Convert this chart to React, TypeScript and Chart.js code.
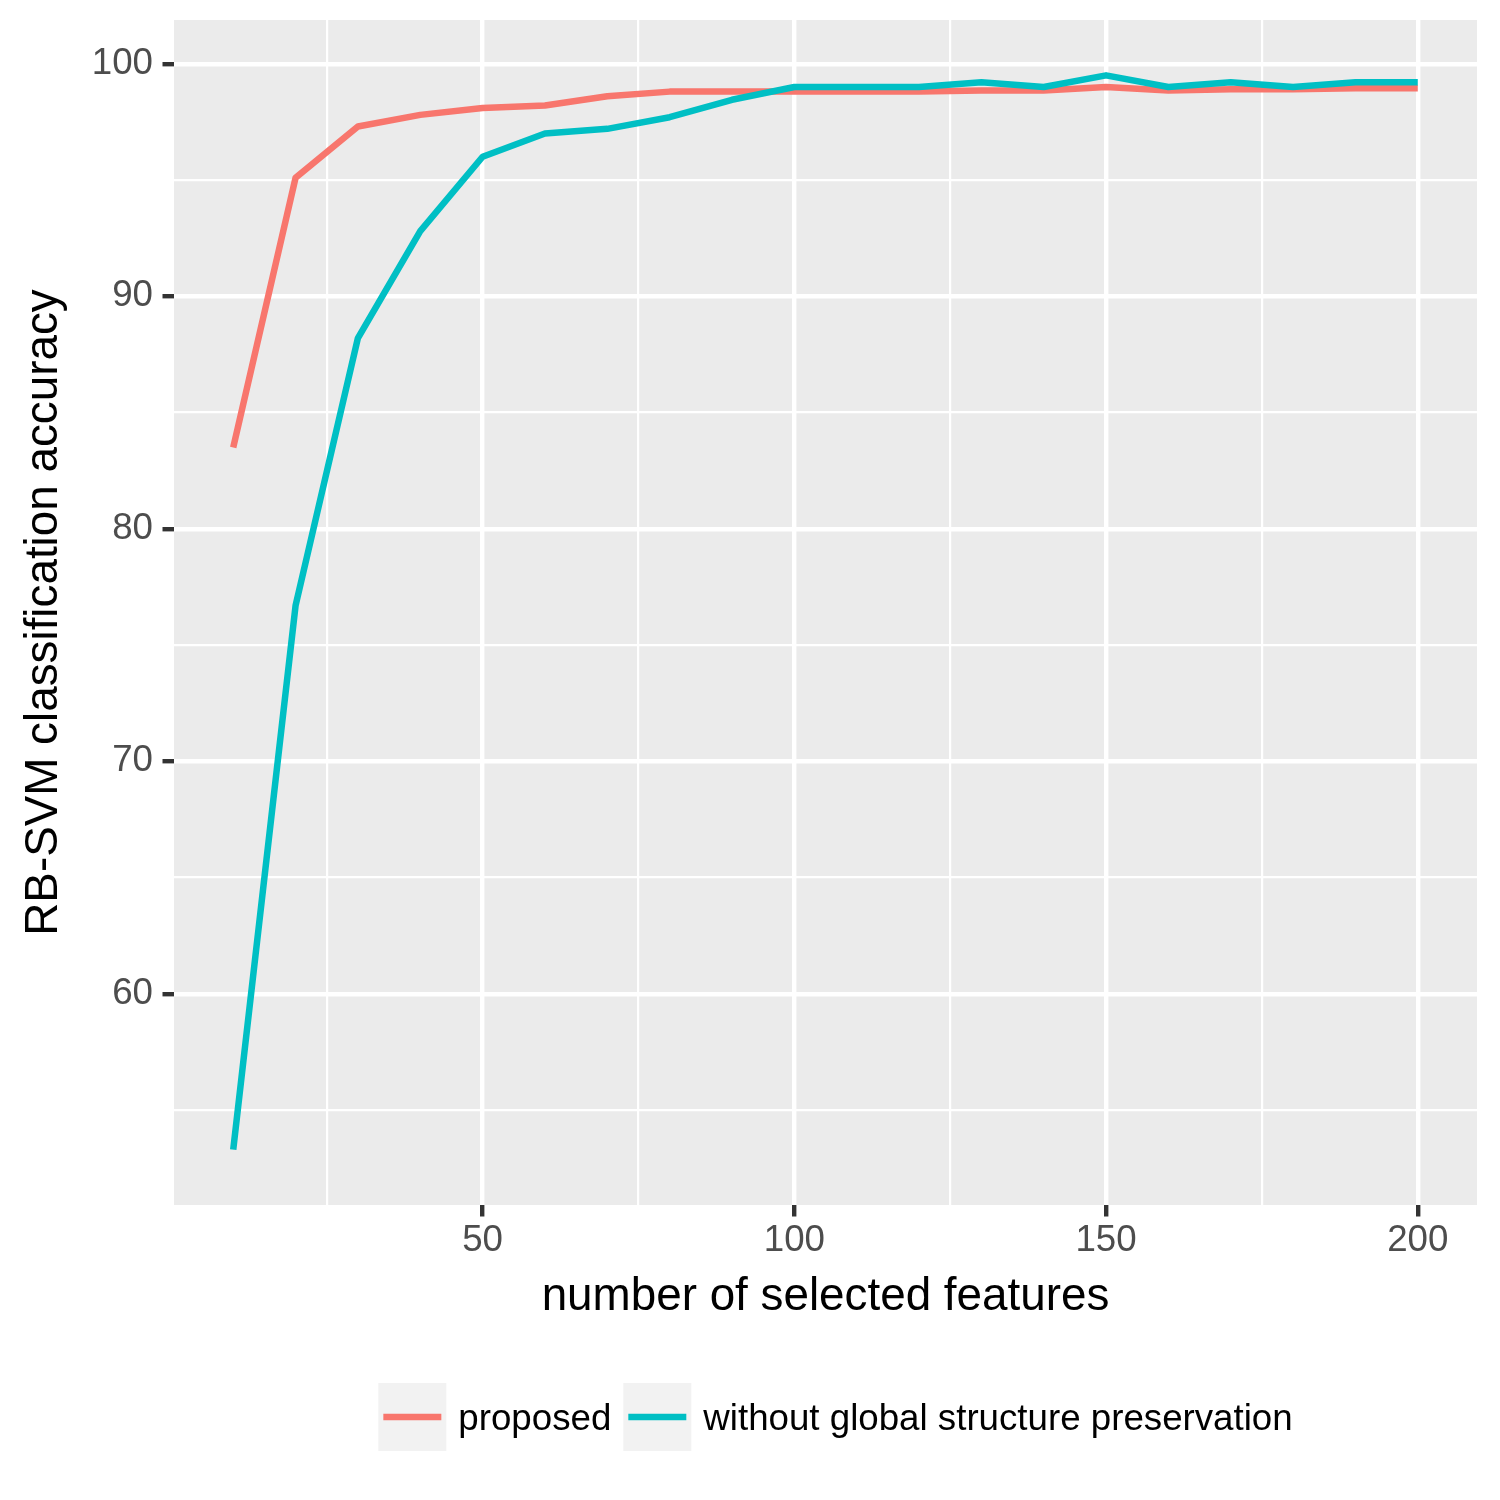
import React, { useEffect, useRef } from 'react';
import { Chart, registerables } from 'chart.js';

Chart.register(...registerables);

// values
const features = [10, 20, 30, 40, 50, 60, 70, 80, 90, 100, 110, 120, 130, 140, 150, 160, 170, 180, 190, 200];
const proposed = [83.5, 95.1, 97.3, 97.8, 98.1, 98.2, 98.6, 98.8, 98.8, 98.8, 98.8, 98.8, 98.85, 98.85, 99.0, 98.85, 98.9, 98.9, 98.95, 98.95];
const withoutGlobal = [53.3, 76.7, 88.2, 92.8, 96.0, 97.0, 97.2, 97.7, 98.45, 99.0, 99.0, 99.0, 99.2, 99.0, 99.5, 99.0, 99.2, 99.0, 99.2, 99.2];

const seriesNames = ['proposed', 'without global structure preservation'];
const seriesColors = ['#F8766D', '#00BFC4'];

const xTicks = [25, 50, 75, 100, 125, 150, 175, 200];
const xLabeled = [50, 100, 150, 200];
const yTicks = [55, 60, 65, 70, 75, 80, 85, 90, 95, 100];
const yLabeled = [60, 70, 80, 90, 100];

const xTitle = 'number of selected features';
const yTitle = 'RB-SVM classification accuracy';

const FONT = '"Liberation Sans", Arial, sans-serif';

const panelPlugin = {
  id: 'panel',
  beforeDraw(chart: any) {
    const { ctx, chartArea } = chart;
    ctx.save();
    ctx.fillStyle = '#FFFFFF';
    ctx.fillRect(0, 0, chart.width, chart.height);
    ctx.fillStyle = '#EBEBEB';
    ctx.fillRect(chartArea.left, chartArea.top, chartArea.right - chartArea.left, chartArea.bottom - chartArea.top);
    ctx.restore();
  },
  afterDraw(chart: any) {
    const { ctx, chartArea } = chart;
    ctx.save();
    ctx.fillStyle = '#000000';

    // axis titles
    ctx.font = `45.8px ${FONT}`;
    ctx.textAlign = 'center';
    ctx.textBaseline = 'alphabetic';
    ctx.fillText(xTitle, (chartArea.left + chartArea.right) / 2, 1310);
    ctx.save();
    ctx.translate(57, (chartArea.top + chartArea.bottom) / 2);
    ctx.rotate(-Math.PI / 2);
    ctx.fillText(yTitle, 0, 0);
    ctx.restore();

    // legend at the bottom
    ctx.font = `36.7px ${FONT}`;
    const box = 68;
    const gap = 12;
    const sets = chart.data.datasets;
    const widths = sets.map((d: any) => ctx.measureText(d.label).width);
    let total = 0;
    widths.forEach((w: number, i: number) => {
      total += box + gap + w + (i < widths.length - 1 ? gap : 0);
    });
    let x = 835.5 - total / 2;
    const top = 1383;
    sets.forEach((d: any, i: number) => {
      ctx.fillStyle = '#F2F2F2';
      ctx.fillRect(x, top, box, box);
      ctx.strokeStyle = d.borderColor;
      ctx.lineWidth = d.borderWidth;
      ctx.lineCap = 'butt';
      ctx.beginPath();
      ctx.moveTo(x + 5, top + box / 2);
      ctx.lineTo(x + box - 5, top + box / 2);
      ctx.stroke();
      x += box + gap;
      ctx.fillStyle = '#000000';
      ctx.textAlign = 'left';
      ctx.fillText(d.label, x, 1430);
      x += widths[i] + gap;
    });
    ctx.restore();
  },
};

const App = () => {
  const canvasRef = useRef<HTMLCanvasElement>(null);

  useEffect(() => {
    if (!canvasRef.current) return;

    const tickFont = { family: FONT, size: 36.7, lineHeight: 1.2 };

    const chart = new Chart(canvasRef.current, {
      type: 'line',
      data: {
        datasets: [
          {
            label: seriesNames[0],
            data: features.map((f, i) => ({ x: f, y: proposed[i] })),
            borderColor: seriesColors[0],
            borderWidth: 6.5,
            pointRadius: 0,
            borderJoinStyle: 'round',
            borderCapStyle: 'butt',
            tension: 0,
            order: 2,
          },
          {
            label: seriesNames[1],
            data: features.map((f, i) => ({ x: f, y: withoutGlobal[i] })),
            borderColor: seriesColors[1],
            borderWidth: 6.5,
            pointRadius: 0,
            borderJoinStyle: 'round',
            borderCapStyle: 'butt',
            tension: 0,
            order: 1,
          },
        ],
      },
      options: {
        animation: false,
        responsive: false,
        devicePixelRatio: 1,
        layout: { padding: { top: 20, right: 23, left: 0, bottom: 0 } },
        plugins: {
          legend: { display: false },
          tooltip: { enabled: false },
        },
        scales: {
          x: {
            type: 'linear',
            min: 0.5,
            max: 209.5,
            afterBuildTicks: (scale: any) => {
              scale.ticks = xTicks.map((v) => ({ value: v }));
            },
            afterFit: (scale: any) => {
              scale.height = 295;
              scale.paddingLeft = 0;
              scale.paddingRight = 0;
            },
            border: { display: false },
            grid: {
              color: '#FFFFFF',
              lineWidth: (c: any) => (xLabeled.includes(c.tick?.value) ? 4.4 : 2.2),
              drawTicks: true,
              tickLength: 11.5,
              tickWidth: 4.4,
              tickColor: (c: any) => (xLabeled.includes(c.tick?.value) ? '#333333' : 'rgba(0,0,0,0)'),
            },
            ticks: {
              autoSkip: false,
              maxRotation: 0,
              padding: 2,
              color: '#4D4D4D',
              font: tickFont,
              callback: (v: any) => (xLabeled.includes(Number(v)) ? String(v) : ''),
            },
          },
          y: {
            type: 'linear',
            min: 50.92,
            max: 101.88,
            afterBuildTicks: (scale: any) => {
              scale.ticks = yTicks.map((v) => ({ value: v }));
            },
            afterFit: (scale: any) => {
              scale.width = 174;
              scale.paddingTop = 0;
              scale.paddingBottom = 0;
            },
            border: { display: false },
            grid: {
              color: '#FFFFFF',
              lineWidth: (c: any) => (yLabeled.includes(c.tick?.value) ? 4.4 : 2.2),
              drawTicks: true,
              tickLength: 11.5,
              tickWidth: 4.4,
              tickColor: (c: any) => (yLabeled.includes(c.tick?.value) ? '#333333' : 'rgba(0,0,0,0)'),
            },
            ticks: {
              autoSkip: false,
              padding: 9.5,
              color: '#4D4D4D',
              font: tickFont,
              callback: (v: any) => (yLabeled.includes(Number(v)) ? String(v) : ''),
            },
          },
        },
      },
      plugins: [panelPlugin],
    });

    return () => {
      chart.destroy();
    };
  }, []);

  return (
    <div style={{ position: 'absolute', left: 0, top: 0, width: 1500, height: 1500 }}>
      <canvas ref={canvasRef} width={1500} height={1500} />
    </div>
  );
};

export default App;
